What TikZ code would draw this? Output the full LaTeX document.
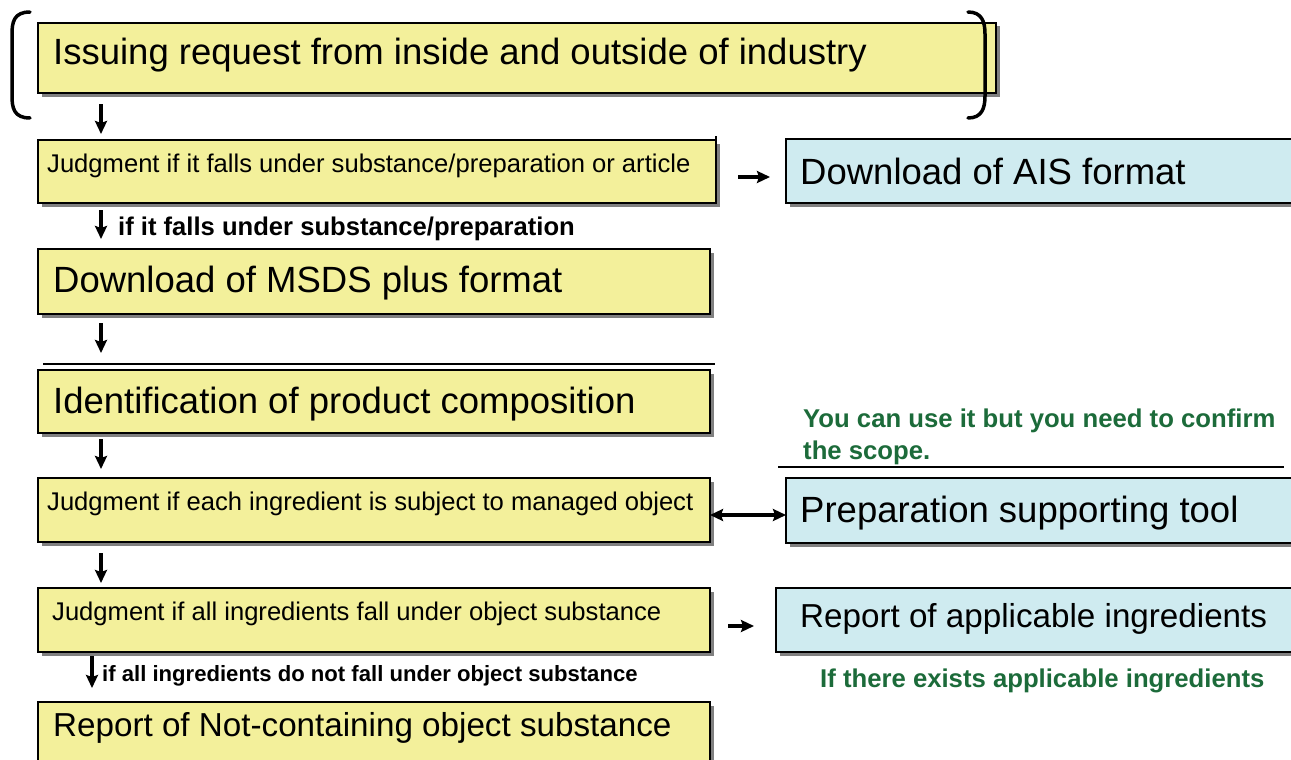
\documentclass[tikz,border=0pt]{standalone}
\usepackage{fontspec}
\setmainfont{Liberation Sans}
\usetikzlibrary{arrows.meta,shadows}
\definecolor{yfill}{RGB}{243,240,155}
\definecolor{bfill}{RGB}{207,235,240}
\definecolor{gtxt}{RGB}{28,107,58}
\tikzset{
  boxbase/.style={draw=black, line width=1.8pt, inner sep=0pt, outer sep=0pt, anchor=north west,
    drop shadow={shadow xshift=3.5pt, shadow yshift=-3.5pt, fill=black!50, opacity=1}},
  ybox/.style={boxbase, fill=yfill},
  bbox/.style={boxbase, fill=bfill},
  bigtxt/.style={anchor=base west, inner sep=0pt, font=\fontsize{36.5}{40}\selectfont},
  midtxt/.style={anchor=base west, inner sep=0pt, font=\fontsize{33.2}{38}\selectfont},
  smalltxt/.style={anchor=base west, inner sep=0pt, font=\fontsize{25.6}{28}\selectfont},
  lbltxt/.style={anchor=base west, inner sep=0pt, font=\bfseries\fontsize{25.6}{28}\selectfont},
  lbltxtb/.style={anchor=base west, inner sep=0pt, font=\bfseries\fontsize{22.1}{26}\selectfont},
  greentxt/.style={anchor=base west, inner sep=0pt, text=gtxt, font=\bfseries\fontsize{25.7}{28}\selectfont},
  flowarrow/.style={draw=black, line width=3.4pt, -{Stealth[length=13pt,width=12pt,inset=2pt]}},
  dflowarrow/.style={draw=black, line width=3.4pt, {Stealth[length=13pt,width=12pt,inset=2pt]}-{Stealth[length=13pt,width=12pt,inset=2pt]}},
  brk/.style={line width=3.5pt, line cap=round}
}
\begin{document}
\begin{tikzpicture}[x=1pt,y=-1pt]
\useasboundingbox (0,0) rectangle (1291,760);
\clip (0,0) rectangle (1291,760);
\fill[white] (0,0) rectangle (1291,760);

% boxes
\node[ybox, minimum width=958pt, minimum height=70pt] (b1) at (38,23) {};
\node[ybox, minimum width=678pt, minimum height=63pt] (b2) at (38,140) {};
\node[bbox, minimum width=515pt, minimum height=64pt] (ais) at (786,139) {};
\node[ybox, minimum width=672pt, minimum height=65pt] (b3) at (38,249) {};
\node[ybox, minimum width=672pt, minimum height=63pt] (b4) at (38,370) {};
\node[ybox, minimum width=672pt, minimum height=64pt] (b5) at (38,478) {};
\node[bbox, minimum width=515pt, minimum height=65pt] (prep) at (786,478) {};
\node[ybox, minimum width=672pt, minimum height=64pt] (b6) at (38,588) {};
\node[bbox, minimum width=525pt, minimum height=64pt] (rep) at (776,588) {};
\node[ybox, minimum width=672pt, minimum height=80pt] (b7) at (38,702) {};

% extra right edge line of judgment box
\coordinate (v1) at (716,136);
\draw[line width=1.8pt] (v1) -- (v1 |- b2.south);

% brackets
\draw[brk] (30,12) .. controls (14,12) and (12,22) .. (12,34) -- (12,96) .. controls (12,108) and (14,118) .. (30,118);
\draw[brk] (968,12) .. controls (982,12) and (985,22) .. (985,34) -- (985,96) .. controls (985,108) and (982,118) .. (968,118);

% texts
\node[bigtxt] (t1) at (53,65) {Issuing request from inside and outside of industry};
\node[smalltxt] (t2) at (47,172) {Judgment if it falls under substance/preparation or article};
\node[bigtxt] (tais) at (800,184) {Download of AIS format};
\node[lbltxt] (l1) at (118,235) {if it falls under substance/preparation};
\node[bigtxt] (t3) at (53,292) {Download of MSDS plus format};
\node[bigtxt] (t4) at (53,413) {Identification of product composition};
\node[smalltxt] (t5) at (47,510) {Judgment if each ingredient is subject to managed object};
\node[greentxt] (g1) at (803,427) {You can use it but you need to confirm};
\node[greentxt] (g2) at (803,459) {the scope.};
\node[bigtxt] (tprep) at (800,522) {Preparation supporting tool};
\node[smalltxt] (t6) at (52,620) {Judgment if all ingredients fall under object substance};
\node[midtxt] (trep) at (800,627) {Report of applicable ingredients};
\node[greentxt] (g3) at (820,687) {If there exists applicable ingredients};
\node[lbltxtb] (l2) at (102,681) {if all ingredients do not fall under object substance};
\node[midtxt] (t7) at (53,736) {Report of Not-containing object substance};

% horizontal rules
\coordinate (h1a) at (43,364);
\coordinate (h1b) at (715,364);
\draw[line width=1.5pt] (h1a) -- (h1b);
\coordinate (h2a) at (778,467);
\coordinate (h2b) at (1284,467);
\draw[line width=1.5pt] (h2a) -- (h2b);

% arrows
\coordinate (a1s) at (101,104); \coordinate (a1e) at (101,134);
\draw[flowarrow] (a1s) -- (a1e);
\coordinate (a2s) at (101,210); \coordinate (a2e) at (101,239);
\draw[flowarrow] (a2s) -- (a2e);
\coordinate (a3s) at (101,323); \coordinate (a3e) at (101,353);
\draw[flowarrow] (a3s) -- (a3e);
\coordinate (a4s) at (101,439); \coordinate (a4e) at (101,469);
\draw[flowarrow] (a4s) -- (a4e);
\coordinate (a5s) at (101,553); \coordinate (a5e) at (101,583);
\draw[flowarrow] (a5s) -- (a5e);
\coordinate (a6s) at (92,656); \coordinate (a6e) at (92,688);
\draw[flowarrow] (a6s) -- (a6e);
\coordinate (a7s) at (738,177); \coordinate (a7e) at (770,177);
\draw[flowarrow] (a7s) -- (a7e);
\coordinate (a8s) at (728,626); \coordinate (a8e) at (754,626);
\draw[flowarrow] (a8s) -- (a8e);
\draw[dflowarrow] ([yshift=-5pt]b5.east) -- ([yshift=-5pt]b5.east -| prep.west);
\end{tikzpicture}
\end{document}
